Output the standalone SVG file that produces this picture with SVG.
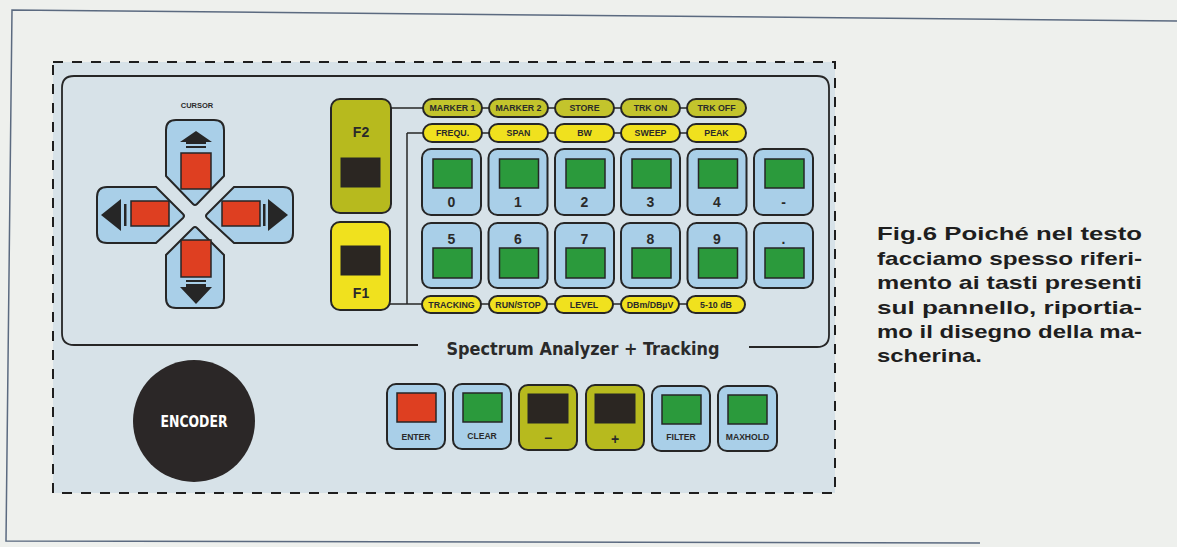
<svg xmlns="http://www.w3.org/2000/svg" width="1177" height="547" viewBox="0 0 1177 547">
<style>
.key{fill:#a9cfe8;stroke:#262626;stroke-width:2}
.olive{fill:#b7ba1e;stroke:#262626;stroke-width:2}
.yel{fill:#f0e11e;stroke:#262626;stroke-width:2}
.grn{fill:#2b9a3c;stroke:#262626;stroke-width:1.5}
.red{fill:#de3f21;stroke:#262626;stroke-width:1.5}
.blk{fill:#2b2622;stroke:#262626;stroke-width:1}
.pill-o{fill:#c3c42c;stroke:#262626;stroke-width:2}
.pill-y{fill:#f0e11e;stroke:#262626;stroke-width:2}
.pt{font-family:"Liberation Sans",Arial,sans-serif;font-weight:bold;font-size:8.8px;fill:#2a2a2a;text-anchor:middle}
.kt{font-family:"Liberation Sans",Arial,sans-serif;font-weight:bold;font-size:14px;fill:#2a2a2a;text-anchor:middle}
.bt{font-family:"Liberation Sans",Arial,sans-serif;font-weight:bold;font-size:8.6px;fill:#2a2a2a;text-anchor:middle}
.ft{font-family:"Liberation Sans",Arial,sans-serif;font-weight:bold;font-size:14px;fill:#2a2a2a;text-anchor:middle}
.cap{font-family:"Liberation Sans",Arial,sans-serif;font-weight:bold;font-size:19px;fill:#1e1e1e}
.ln{stroke:#262626;stroke-width:1.5;fill:none}
.arr{fill:#262626}
</style>
<rect x="0" y="0" width="1177" height="547" fill="#eef0ed"/>
<g id="frame" fill="none" stroke="#5b6a80" stroke-width="1.5">
<polyline points="1177,21 12,10 6,541 980,543"/>
</g>
<rect x="53" y="62" width="782" height="431" fill="#d7e2e8"/>
<rect id="dashed" x="53" y="62" width="782" height="431" fill="none" stroke="#1e1e1e" stroke-width="2" stroke-dasharray="10,9"/>
<path id="panel" d="M418,345 H74 Q62,345 62,333 V88 Q62,76 74,76 H817 Q829,76 829,88 V335 Q829,347 817,347 H749" fill="none" stroke="#262626" stroke-width="1.8"/>
<text id="title" x="583" y="355" font-family="'Liberation Sans Narrow','DejaVu Sans Condensed','Liberation Sans',sans-serif" font-weight="bold" font-size="18" fill="#2a2a2a" text-anchor="middle" textLength="273" lengthAdjust="spacingAndGlyphs">Spectrum Analyzer + Tracking</text>

<g id="connectors" class="ln">
<line x1="390" y1="108" x2="423" y2="108"/>
<line x1="482" y1="108" x2="489" y2="108"/>
<line x1="548" y1="108" x2="555" y2="108"/>
<line x1="614" y1="108" x2="621" y2="108"/>
<line x1="680" y1="108" x2="687" y2="108"/>
<line x1="407" y1="133" x2="423" y2="133"/>
<line x1="482" y1="133" x2="489" y2="133"/>
<line x1="548" y1="133" x2="555" y2="133"/>
<line x1="614" y1="133" x2="621" y2="133"/>
<line x1="680" y1="133" x2="687" y2="133"/>
<line x1="407" y1="133" x2="407" y2="304"/>
<line x1="390" y1="304" x2="422" y2="304"/>
<line x1="481" y1="304" x2="489" y2="304"/>
<line x1="547" y1="304" x2="555" y2="304"/>
<line x1="613" y1="304" x2="621" y2="304"/>
<line x1="679" y1="304" x2="687" y2="304"/>
</g>

<text id="cursor-label" x="197" y="108" font-family="'Liberation Sans',Arial,sans-serif" font-weight="bold" font-size="7.5" fill="#2a2a2a" text-anchor="middle">CURSOR</text>

<g id="cursor-up">
<path class="key" stroke-linejoin="round" d="M166,130 Q166,120 176,120 H214 Q224,120 224,130 V176 L197,204 Q195,206 193,204 L166,176 Z"/>
<polygon class="arr" points="196,131 180,142 186,142 186,144 206,144 206,142 212,142"/>
<rect class="arr" x="186" y="146" width="20" height="2"/>
<rect class="red" x="181" y="153" width="30" height="36"/>
</g>
<g id="cursor-left">
<path class="key" d="M107,187 H156 L183,214 Q185,216 183,218 L156,243 H107 Q97,243 97,233 V197 Q97,187 107,187 Z"/>
<polygon class="arr" points="101,215 121,199 121,231"/>
<rect class="arr" x="124" y="204" width="2.5" height="22"/>
<rect class="red" x="131" y="201" width="38" height="25"/>
</g>
<g id="cursor-right">
<path class="key" d="M283,187 H234 L207,214 Q205,216 207,218 L234,243 H283 Q293,243 293,233 V197 Q293,187 283,187 Z"/>
<polygon class="arr" points="288,215 268,199 268,231"/>
<rect class="arr" x="263" y="204" width="2.5" height="22"/>
<rect class="red" x="222" y="201" width="38" height="25"/>
</g>
<g id="cursor-down">
<path class="key" d="M166,298 Q166,308 176,308 H214 Q224,308 224,298 V255 L197,228 Q195,226 193,228 L166,255 Z"/>
<rect class="red" x="181" y="240" width="30" height="37"/>
<rect class="arr" x="186" y="280" width="20" height="2"/>
<polygon class="arr" points="186,284 206,284 206,287 212,287 196,304 180,287 186,287"/>
</g>

<g id="F2">
<rect class="olive" x="331" y="99" width="60" height="114" rx="9"/>
<text class="ft" x="361" y="137">F2</text>
<rect class="blk" x="341" y="158" width="39" height="29"/>
</g>
<g id="F1">
<rect class="yel" x="331" y="222" width="59" height="88" rx="9"/>
<rect class="blk" x="341" y="246" width="39" height="29"/>
<text class="ft" x="361" y="298">F1</text>
</g>

<g id="pill-marker1"><rect class="pill-o" x="423" y="99" width="59" height="18" rx="9"/><text class="pt" x="452.5" y="111.3">MARKER 1</text></g>
<g id="pill-marker2"><rect class="pill-o" x="489" y="99" width="59" height="18" rx="9"/><text class="pt" x="518.5" y="111.3">MARKER 2</text></g>
<g id="pill-store"><rect class="pill-o" x="555" y="99" width="59" height="18" rx="9"/><text class="pt" x="584.5" y="111.3">STORE</text></g>
<g id="pill-trkon"><rect class="pill-o" x="621" y="99" width="59" height="18" rx="9"/><text class="pt" x="650.5" y="111.3">TRK  ON</text></g>
<g id="pill-trkoff"><rect class="pill-o" x="687" y="99" width="59" height="18" rx="9"/><text class="pt" x="716.5" y="111.3">TRK  OFF</text></g>

<g id="pill-frequ"><rect class="pill-y" x="423" y="124" width="59" height="18" rx="9"/><text class="pt" x="452.5" y="136.3">FREQU.</text></g>
<g id="pill-span"><rect class="pill-y" x="489" y="124" width="59" height="18" rx="9"/><text class="pt" x="518.5" y="136.3">SPAN</text></g>
<g id="pill-bw"><rect class="pill-y" x="555" y="124" width="59" height="18" rx="9"/><text class="pt" x="584.5" y="136.3">BW</text></g>
<g id="pill-sweep"><rect class="pill-y" x="621" y="124" width="59" height="18" rx="9"/><text class="pt" x="650.5" y="136.3">SWEEP</text></g>
<g id="pill-peak"><rect class="pill-y" x="687" y="124" width="59" height="18" rx="9"/><text class="pt" x="716.5" y="136.3">PEAK</text></g>

<g id="key-0"><rect class="key" x="422" y="149" width="59" height="66" rx="9"/><rect class="grn" x="433" y="159" width="39" height="29"/><text class="kt" x="451.5" y="207">0</text></g>
<g id="key-1"><rect class="key" x="488.5" y="149" width="59" height="66" rx="9"/><rect class="grn" x="499.5" y="159" width="39" height="29"/><text class="kt" x="518" y="207">1</text></g>
<g id="key-2"><rect class="key" x="555" y="149" width="59" height="66" rx="9"/><rect class="grn" x="566" y="159" width="39" height="29"/><text class="kt" x="584.5" y="207">2</text></g>
<g id="key-3"><rect class="key" x="621" y="149" width="59" height="66" rx="9"/><rect class="grn" x="632" y="159" width="39" height="29"/><text class="kt" x="650.5" y="207">3</text></g>
<g id="key-4"><rect class="key" x="687.5" y="149" width="59" height="66" rx="9"/><rect class="grn" x="698.5" y="159" width="39" height="29"/><text class="kt" x="717" y="207">4</text></g>
<g id="key-minus"><rect class="key" x="754" y="149" width="59" height="66" rx="9"/><rect class="grn" x="765" y="159" width="39" height="29"/><text class="kt" x="783.5" y="207">-</text></g>

<g id="key-5"><rect class="key" x="422" y="223" width="59" height="65" rx="9"/><text class="kt" x="451.5" y="244">5</text><rect class="grn" x="433" y="248" width="39" height="30"/></g>
<g id="key-6"><rect class="key" x="488.5" y="223" width="59" height="65" rx="9"/><text class="kt" x="518" y="244">6</text><rect class="grn" x="499.5" y="248" width="39" height="30"/></g>
<g id="key-7"><rect class="key" x="555" y="223" width="59" height="65" rx="9"/><text class="kt" x="584.5" y="244">7</text><rect class="grn" x="566" y="248" width="39" height="30"/></g>
<g id="key-8"><rect class="key" x="621" y="223" width="59" height="65" rx="9"/><text class="kt" x="650.5" y="244">8</text><rect class="grn" x="632" y="248" width="39" height="30"/></g>
<g id="key-9"><rect class="key" x="687.5" y="223" width="59" height="65" rx="9"/><text class="kt" x="717" y="244">9</text><rect class="grn" x="698.5" y="248" width="39" height="30"/></g>
<g id="key-dot"><rect class="key" x="754" y="223" width="59" height="65" rx="9"/><text class="kt" x="783.5" y="244">.</text><rect class="grn" x="765" y="248" width="39" height="30"/></g>

<g id="pill-tracking"><rect class="pill-y" x="422" y="296" width="59" height="17" rx="8.5"/><text class="pt" x="451.5" y="307.8">TRACKING</text></g>
<g id="pill-runstop"><rect class="pill-y" x="489" y="296" width="58" height="17" rx="8.5"/><text class="pt" x="518" y="307.8">RUN/STOP</text></g>
<g id="pill-level"><rect class="pill-y" x="555" y="296" width="58" height="17" rx="8.5"/><text class="pt" x="584" y="307.8">LEVEL</text></g>
<g id="pill-dbm"><rect class="pill-y" x="621" y="296" width="58" height="17" rx="8.5"/><text class="pt" x="650" y="307.8">DBm/DBµV</text></g>
<g id="pill-510"><rect class="pill-y" x="687" y="296" width="58" height="17" rx="8.5"/><text class="pt" x="716" y="307.8">5-10 dB</text></g>

<g id="encoder">
<circle cx="194" cy="421" r="61" fill="#2b2727"/>
<text x="194" y="427" font-family="'Liberation Sans Narrow','DejaVu Sans Condensed','Liberation Sans',sans-serif" font-weight="bold" font-size="16" fill="#ffffff" text-anchor="middle" textLength="67" lengthAdjust="spacingAndGlyphs">ENCODER</text>
</g>

<g id="btn-enter"><rect class="key" x="387" y="384" width="58" height="65" rx="9"/><rect class="red" x="397" y="393" width="39" height="29"/><text class="bt" x="416" y="440">ENTER</text></g>
<g id="btn-clear"><rect class="key" x="453" y="384" width="58" height="65" rx="9"/><rect class="grn" x="463" y="393" width="39" height="29"/><text class="bt" x="482" y="439">CLEAR</text></g>
<g id="btn-minus"><rect class="olive" x="519" y="385" width="58" height="65" rx="9"/><rect class="blk" x="528" y="394" width="40" height="29"/><text class="kt" x="548" y="443" font-size="18">−</text></g>
<g id="btn-plus"><rect class="olive" x="586" y="385" width="58" height="65" rx="9"/><rect class="blk" x="595" y="394" width="40" height="29"/><text class="kt" x="615" y="444" font-size="18">+</text></g>
<g id="btn-filter"><rect class="key" x="652" y="386" width="58" height="65" rx="9"/><rect class="grn" x="662" y="395" width="39" height="29"/><text class="bt" x="681" y="440">FILTER</text></g>
<g id="btn-maxhold"><rect class="key" x="718" y="386" width="59" height="65" rx="9"/><rect class="grn" x="728" y="395" width="39" height="29"/><text class="bt" x="747.5" y="440">MAXHOLD</text></g>

<g id="caption" class="cap">
<text x="877" y="240" textLength="265" lengthAdjust="spacingAndGlyphs">Fig.6 Poiché nel testo</text>
<text x="877" y="265" textLength="265" lengthAdjust="spacingAndGlyphs">facciamo spesso riferi-</text>
<text x="877" y="289" textLength="265" lengthAdjust="spacingAndGlyphs">mento ai tasti presenti</text>
<text x="877" y="314" textLength="265" lengthAdjust="spacingAndGlyphs">sul pannello, riportia-</text>
<text x="877" y="338" textLength="265" lengthAdjust="spacingAndGlyphs">mo il disegno della ma-</text>
<text x="877" y="362" textLength="105" lengthAdjust="spacingAndGlyphs">scherina.</text>
</g>
</svg>
